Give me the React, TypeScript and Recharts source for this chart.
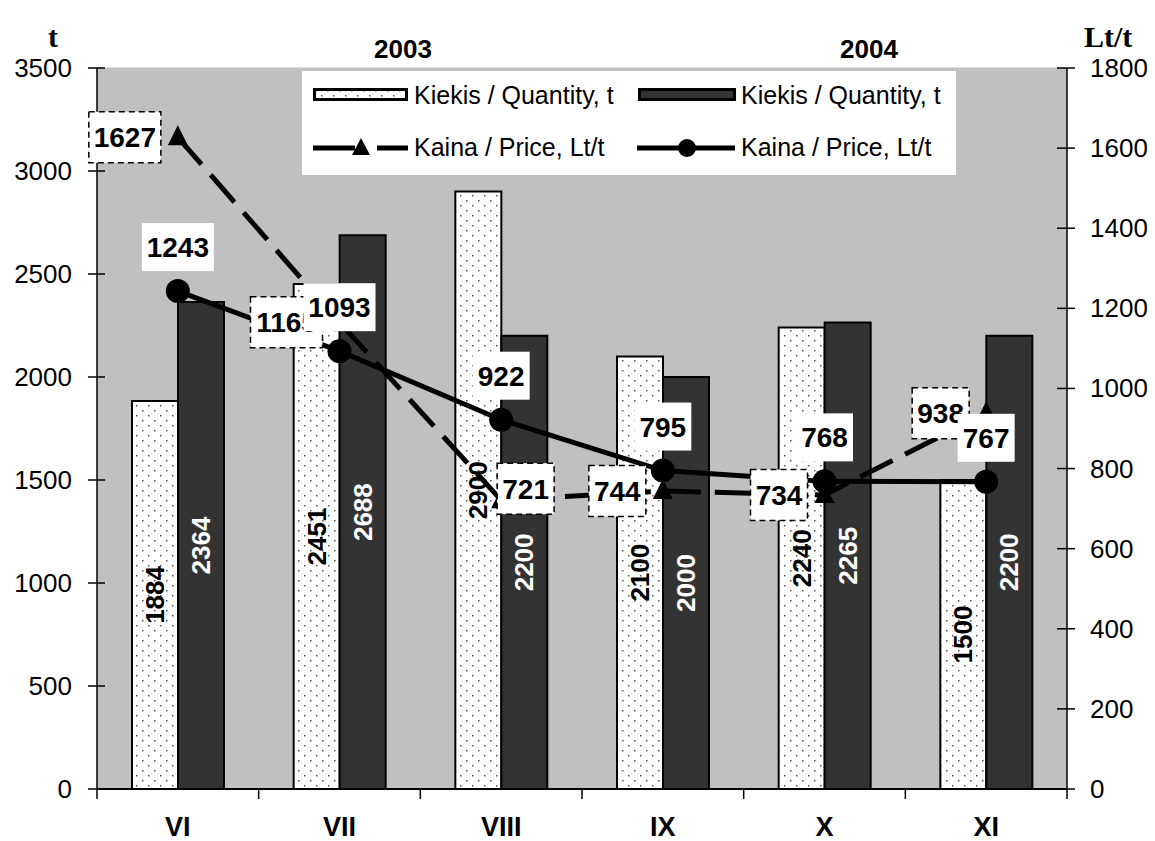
import React from "react";
import {
  ComposedChart,
  Bar,
  Line,
  XAxis,
  YAxis,
  CartesianGrid,
  LabelList,
} from "recharts";

// months on the x axis
const months = ["VI", "VII", "VIII", "IX", "X", "XI"];

// quantity, t (left axis)
const quantity2003 = [1884, 2451, 2900, 2100, 2240, 1500];
const quantity2004 = [2364, 2688, 2200, 2000, 2265, 2200];

// price, Lt/t (right axis)
const price2003 = [1627, 1165, 721, 744, 734, 938];
const price2004 = [1243, 1093, 922, 795, 768, 767];

const leftTicks = [0, 500, 1000, 1500, 2000, 2500, 3000, 3500];
const rightTicks = [0, 200, 400, 600, 800, 1000, 1200, 1400, 1600, 1800];

const chartData = months.map((m, i) => ({
  month: m,
  q2003: quantity2003[i],
  q2004: quantity2004[i],
  p2003: price2003[i],
  p2004: price2004[i],
}));

const FONT = '"Liberation Sans", Arial, sans-serif';
const SERIF = '"Liberation Serif", "Times New Roman", serif';
const W = 1139;
const H = 833;
const PLOT_W = 970;
const HALF_BAND = PLOT_W / months.length / 2;

// left axis: crossing tick marks, labels on the left
const LeftTick = (props: any) => {
  const { x, y, payload } = props;
  return (
    <g>
      <line x1={x - 9} x2={x + 8} y1={y} y2={y} stroke="#000" strokeWidth={1.5} />
      <text x={x - 25} y={y + 9} textAnchor="end" fontSize={26} fontFamily={FONT} fill="#000">
        {payload.value}
      </text>
    </g>
  );
};

const RightTick = (props: any) => {
  const { x, y, payload } = props;
  return (
    <g>
      <line x1={x - 10} x2={x + 8} y1={y} y2={y} stroke="#000" strokeWidth={1.5} />
      <text x={x + 23} y={y + 9} textAnchor="start" fontSize={26} fontFamily={FONT} fill="#000">
        {payload.value}
      </text>
    </g>
  );
};

// tick marks sit between categories, like the Excel original
const MonthTick = (props: any) => {
  const { x, y, payload, index } = props;
  return (
    <g>
      <line x1={x - HALF_BAND} x2={x - HALF_BAND} y1={y} y2={y + 10} stroke="#000" strokeWidth={1.5} />
      {index === months.length - 1 && (
        <line x1={x + HALF_BAND} x2={x + HALF_BAND} y1={y} y2={y + 10} stroke="#000" strokeWidth={1.5} />
      )}
      <text x={x} y={y + 47} textAnchor="middle" fontSize={27} fontWeight="bold" fontFamily={FONT} fill="#000">
        {payload.value}
      </text>
    </g>
  );
};

const barLabel = (color: string) => (props: any) => {
  const { x, y, width, height, value } = props;
  const cx = x + width / 2;
  const cy = y + height / 2;
  return (
    <text
      x={cx}
      y={cy}
      transform={`rotate(-90, ${cx}, ${cy})`}
      textAnchor="middle"
      dominantBaseline="central"
      fontSize={26}
      fontWeight="bold"
      fontFamily={FONT}
      fill={color}
    >
      {value}
    </text>
  );
};

const boxWidth = (v: any) => String(v).length * 15 + 12;

// 2003 price labels: dashed box, left of the point (VIII sits to the right)
const price2003Label = (props: any) => {
  const { x, y, value, index } = props;
  const w = boxWidth(value);
  const h = 51;
  const bx = index === 2 ? x - 4 : x - 17 - w;
  const by = index === 2 ? y - 37 : y - h / 2;
  return (
    <g>
      <rect x={bx} y={by} width={w} height={h} fill="#fff" stroke="#000" strokeWidth={1.5} strokeDasharray="6 4" />
      <text
        x={bx + w / 2}
        y={by + h / 2 + 10}
        textAnchor="middle"
        fontSize={28}
        fontWeight="bold"
        fontFamily={FONT}
        fill="#000"
      >
        {value}
      </text>
    </g>
  );
};

// 2004 price labels: plain white box above the point
const price2004Label = (props: any) => {
  const { x, y, value } = props;
  const w = boxWidth(value);
  const h = 48;
  const bx = x - w / 2;
  const by = y - 20 - h;
  return (
    <g>
      <rect x={bx} y={by} width={w} height={h} fill="#fff" />
      <text
        x={x}
        y={by + h / 2 + 10}
        textAnchor="middle"
        fontSize={28}
        fontWeight="bold"
        fontFamily={FONT}
        fill="#000"
      >
        {value}
      </text>
    </g>
  );
};

const TriangleDot = (props: any) => {
  const { cx, cy, index } = props;
  return <path key={`tri-${index}`} d={`M${cx},${cy - 12} L${cx + 10},${cy + 8} L${cx - 10},${cy + 8} Z`} fill="#000" />;
};

const CircleDot = (props: any) => {
  const { cx, cy, index } = props;
  return <circle key={`dot-${index}`} cx={cx} cy={cy} r={12} fill="#000" />;
};

const DotsPattern = ({ id }: { id: string }) => (
  <pattern id={id} width={12} height={10} patternUnits="userSpaceOnUse">
    <rect width={12} height={10} fill="#fff" />
    <rect x={2} y={2} width={1.5} height={1.5} fill="#555" />
    <rect x={8} y={7} width={1.5} height={1.5} fill="#555" />
  </pattern>
);

const legendText: React.CSSProperties = {
  position: "absolute",
  fontFamily: FONT,
  fontSize: 25,
  lineHeight: "25px",
  whiteSpace: "nowrap",
  color: "#000",
};

const ChartLegend = () => (
  <div
    style={{
      position: "absolute",
      left: 294,
      top: 63,
      width: 654,
      height: 104,
      background: "#fff",
    }}
  >
    <svg style={{ position: "absolute", left: 11, top: 17 }} width={95} height={13}>
      <defs>
        <DotsPattern id="legend-dots" />
      </defs>
      <rect x={1.5} y={1.5} width={92} height={10} fill="url(#legend-dots)" stroke="#000" strokeWidth={3} />
    </svg>
    <div style={{ ...legendText, left: 112, top: 12 }}>Kiekis / Quantity, t</div>
    <svg style={{ position: "absolute", left: 336, top: 17 }} width={98} height={13}>
      <rect x={1.5} y={1.5} width={95} height={10} fill="#333" stroke="#000" strokeWidth={3} />
    </svg>
    <div style={{ ...legendText, left: 439, top: 12 }}>Kiekis / Quantity, t</div>

    <svg style={{ position: "absolute", left: 11, top: 64 }} width={96} height={22}>
      <line x1={0} x2={42} y1={13} y2={13} stroke="#000" strokeWidth={5} />
      <line x1={64} x2={95} y1={13} y2={13} stroke="#000" strokeWidth={5} />
      <path d="M48,3 L57,20 L39,20 Z" fill="#000" />
    </svg>
    <div style={{ ...legendText, left: 112, top: 64 }}>Kaina / Price, Lt/t</div>
    <svg style={{ position: "absolute", left: 335, top: 64 }} width={100} height={22}>
      <line x1={0} x2={98} y1={13} y2={13} stroke="#000" strokeWidth={5} />
      <circle cx={50} cy={13} r={9} fill="#000" />
    </svg>
    <div style={{ ...legendText, left: 439, top: 64 }}>Kaina / Price, Lt/t</div>
  </div>
);

const overlayText: React.CSSProperties = {
  position: "absolute",
  fontWeight: "bold",
  color: "#000",
  whiteSpace: "nowrap",
};

const App: React.FC = () => {
  return (
    <div style={{ position: "relative", width: W, height: H, background: "#fff" }}>
      <ComposedChart
        width={W}
        height={H}
        data={chartData}
        margin={{ top: 60, right: 10, bottom: 4, left: 10 }}
        barGap={0}
      >
        <defs>
          <DotsPattern id="bar-dots" />
        </defs>
        <CartesianGrid fill="#c0c0c0" stroke="#c0c0c0" vertical={false} />
        <XAxis
          dataKey="month"
          interval={0}
          height={48}
          tickSize={0}
          tickMargin={0}
          tickLine={false}
          axisLine={{ stroke: "#000", strokeWidth: 2 }}
          tick={<MonthTick />}
        />
        <YAxis
          yAxisId="left"
          width={79}
          domain={[0, 3500]}
          ticks={leftTicks}
          tickSize={0}
          tickMargin={0}
          tickLine={false}
          axisLine={{ stroke: "#000", strokeWidth: 1.5 }}
          tick={<LeftTick />}
        />
        <YAxis
          yAxisId="right"
          orientation="right"
          width={70}
          domain={[0, 1800]}
          ticks={rightTicks}
          tickSize={0}
          tickMargin={0}
          tickLine={false}
          axisLine={{ stroke: "#000", strokeWidth: 1.5 }}
          tick={<RightTick />}
        />
        <Bar
          yAxisId="left"
          dataKey="q2003"
          name="Kiekis / Quantity, t"
          fill="url(#bar-dots)"
          stroke="#000"
          strokeWidth={2}
          barSize={46}
          isAnimationActive={false}
        >
          <LabelList dataKey="q2003" content={barLabel("#000")} />
        </Bar>
        <Bar
          yAxisId="left"
          dataKey="q2004"
          name="Kiekis / Quantity, t"
          fill="#333333"
          stroke="#000"
          strokeWidth={2}
          barSize={46}
          isAnimationActive={false}
        >
          <LabelList dataKey="q2004" content={barLabel("#fff")} />
        </Bar>
        <Line
          yAxisId="right"
          type="linear"
          dataKey="p2003"
          name="Kaina / Price, Lt/t"
          stroke="#000"
          strokeWidth={5}
          strokeDasharray="36 14"
          dot={TriangleDot}
          activeDot={false}
          isAnimationActive={false}
        >
          <LabelList dataKey="p2003" content={price2003Label} />
        </Line>
        <Line
          yAxisId="right"
          type="linear"
          dataKey="p2004"
          name="Kaina / Price, Lt/t"
          stroke="#000"
          strokeWidth={5}
          dot={CircleDot}
          activeDot={false}
          isAnimationActive={false}
        >
          <LabelList dataKey="p2004" content={price2004Label} />
        </Line>
      </ComposedChart>

      <ChartLegend />

      <div style={{ ...overlayText, left: 40, top: 12, fontSize: 30, fontFamily: SERIF }}>t</div>
      <div style={{ ...overlayText, left: 1076, top: 12, fontSize: 30, fontFamily: SERIF }}>Lt/t</div>
      <div style={{ ...overlayText, left: 366, top: 26, fontSize: 26, fontFamily: FONT }}>2003</div>
      <div style={{ ...overlayText, left: 832, top: 26, fontSize: 26, fontFamily: FONT }}>2004</div>
    </div>
  );
};

export default App;
